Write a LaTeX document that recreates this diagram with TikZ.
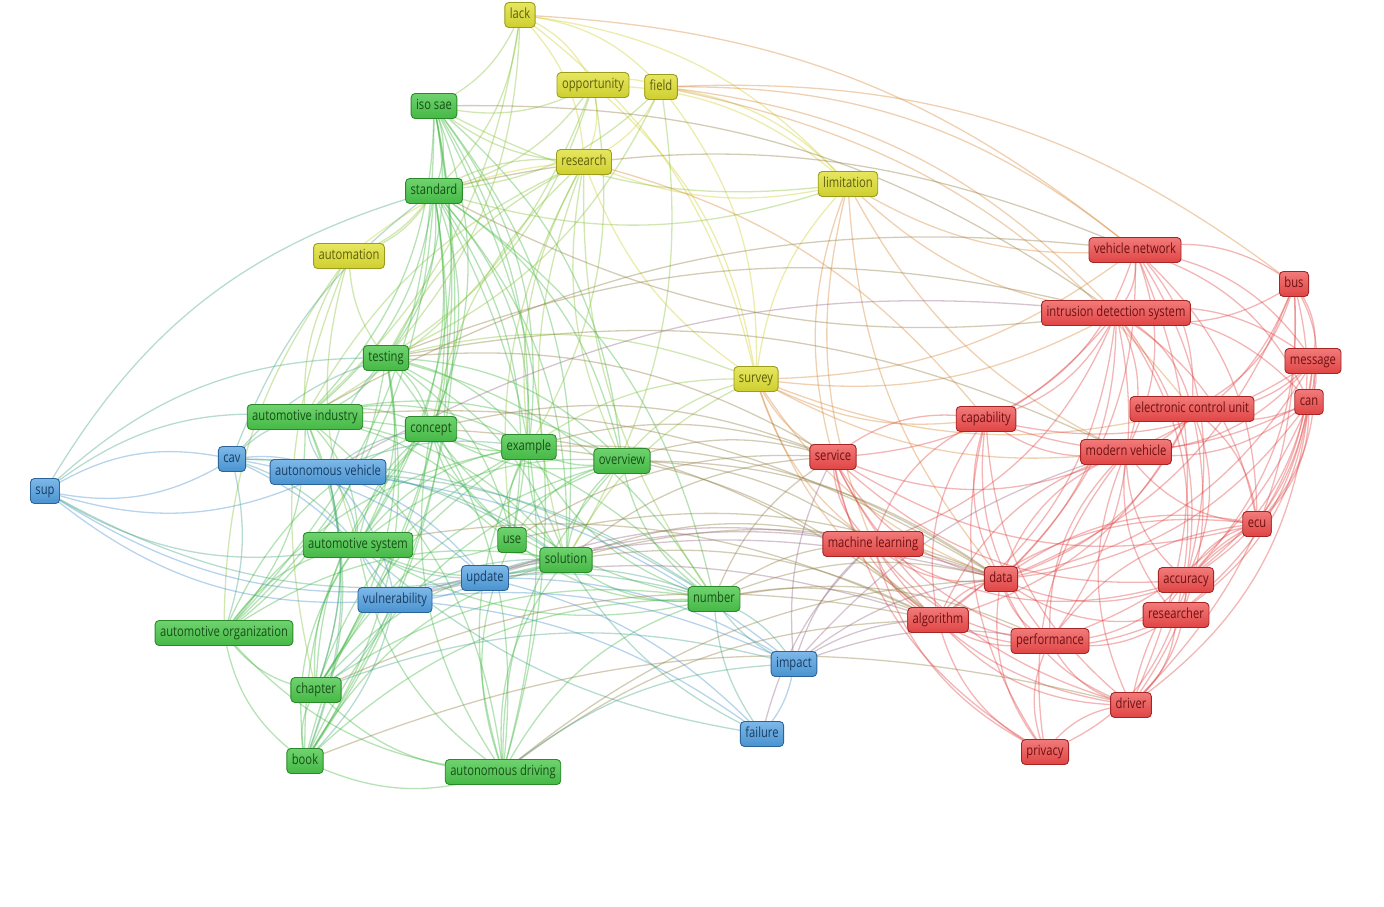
\documentclass[tikz,border=0pt]{standalone}
\usepackage{fontspec}
\setmainfont{Open Sans}[FakeStretch=0.8]
\usetikzlibrary{backgrounds}
\definecolor{gr}{HTML}{45B845}\definecolor{grL}{HTML}{6FD36F}\definecolor{grD}{HTML}{2A8A2A}\definecolor{grT}{HTML}{174F17}
\definecolor{ye}{HTML}{CFCF30}\definecolor{yeL}{HTML}{E6E660}\definecolor{yeD}{HTML}{9C9C1C}\definecolor{yeT}{HTML}{5E5E0C}
\definecolor{bl}{HTML}{4A93D0}\definecolor{blL}{HTML}{7DB8E8}\definecolor{blD}{HTML}{2A6499}\definecolor{blT}{HTML}{173D63}
\definecolor{rd}{HTML}{E04545}\definecolor{rdL}{HTML}{F27A7A}\definecolor{rdD}{HTML}{A52525}\definecolor{rdT}{HTML}{6E1010}
\tikzset{
  kwbox/.style={rounded corners=4pt, draw=#1D, line width=0.9pt, top color=#1L, bottom color=#1,
    text=#1T, inner xsep=5pt, inner ysep=0pt, text height=10pt, text depth=3pt, minimum height=25pt,
    font=\fontsize{14}{16}\selectfont},
  edge/.style={line width=1.3pt, opacity=0.4},
}
\newcommand\kw[5]{\node[kwbox=#4] (#1) at (#2,#3) {#5};\expandafter\xdef\csname kc@#1\endcsname{#4}}
\newcommand\edgeset[2]{\foreach \a/\b in {#2}{%
  \edef\ecol{\csname kc@\a\endcsname!50!\csname kc@\b\endcsname}%
  \draw[edge, draw=\ecol] (\a.center) to[bend left=#1] (\b.center);}}
\begin{document}
\begin{tikzpicture}[x=1pt,y=-1pt]
\useasboundingbox (0,0) rectangle (1384,907);
% yellow
\kw{lack}{520}{15}{ye}{lack}
\kw{opp}{593}{85}{ye}{opportunity}
\kw{field}{661}{87}{ye}{field}
\kw{res}{584}{162}{ye}{research}
\kw{lim}{848}{184}{ye}{limitation}
\kw{autom}{349}{256}{ye}{automation}
\kw{surv}{756}{379}{ye}{survey}
% green
\kw{iso}{434}{106}{gr}{iso sae}
\kw{std}{434}{191}{gr}{standard}
\kw{test}{386}{358}{gr}{testing}
\kw{ai}{305}{417}{gr}{automotive industry}
\kw{conc}{431}{429}{gr}{concept}
\kw{ex}{529}{447}{gr}{example}
\kw{ov}{622}{461}{gr}{overview}
\kw{as}{358}{545}{gr}{automotive system}
\kw{use}{512}{540}{gr}{use}
\kw{sol}{566}{560}{gr}{solution}
\kw{num}{714}{599}{gr}{number}
\kw{ao}{224}{633}{gr}{automotive organization}
\kw{chap}{316}{690}{gr}{chapter}
\kw{book}{305}{761}{gr}{book}
\kw{ad}{503}{772}{gr}{autonomous driving}
% blue
\kw{sup}{45}{491}{bl}{sup}
\kw{cav}{232}{459}{bl}{cav}
\kw{av}{328}{472}{bl}{autonomous vehicle}
\kw{upd}{485}{578}{bl}{update}
\kw{vul}{395}{600}{bl}{vulnerability}
\kw{imp}{794}{664}{bl}{impact}
\kw{fail}{762}{734}{bl}{failure}
% red
\kw{vn}{1135}{250}{rd}{vehicle network}
\kw{bus}{1294}{284}{rd}{bus}
\kw{ids}{1116}{313}{rd}{intrusion detection system}
\kw{msg}{1313}{361}{rd}{message}
\kw{can}{1309}{402}{rd}{can}
\kw{ecuu}{1192}{409}{rd}{electronic control unit}
\kw{cap}{986}{419}{rd}{capability}
\kw{mv}{1126}{452}{rd}{modern vehicle}
\kw{serv}{833}{457}{rd}{service}
\kw{ecu}{1257}{524}{rd}{ecu}
\kw{ml}{873}{544}{rd}{machine learning}
\kw{data}{1001}{579}{rd}{data}
\kw{acc}{1186}{580}{rd}{accuracy}
\kw{resr}{1176}{615}{rd}{researcher}
\kw{alg}{938}{620}{rd}{algorithm}
\kw{perf}{1050}{641}{rd}{performance}
\kw{drv}{1131}{705}{rd}{driver}
\kw{priv}{1045}{752}{rd}{privacy}
\begin{scope}[on background layer]
% green internal
\edgeset{22}{iso/std, iso/test, iso/ai, iso/conc, iso/as, iso/ao, iso/chap, iso/book, iso/ex, iso/sol, iso/ad, iso/use, iso/ov,
 std/test, std/ai, std/conc, std/ex, std/ov, std/as, std/use, std/sol, std/ao, std/chap, std/book, std/ad, std/num, std/autom,
 test/ai, test/conc, test/ex, test/ov, test/as, test/use, test/sol, test/num, test/ao, test/chap, test/book, test/ad,
 ai/conc, ai/ex, ai/ov, ai/as, ai/sol, ai/ao, ai/chap, ai/book, ai/ad, ai/num, ai/use}
\edgeset{-22}{conc/ex, conc/ov, conc/as, conc/sol, conc/chap, conc/book, conc/ad, conc/num, conc/ao, conc/use,
 ex/ov, ex/as, ex/use, ex/sol, ex/num, ex/chap, ex/ad, ex/book, ex/ao, ov/sol, ov/num, ov/as, ov/ad, ov/use, ov/chap, ov/book,
 as/sol, as/ao, as/chap, as/book, as/ad, as/use, as/num, use/sol, use/num, use/ad, sol/num, sol/chap, sol/book, sol/ad, sol/ao,
 num/ad, num/book, num/chap, ao/chap, ao/book, ao/ad, chap/book, chap/ad, book/ad}
% yellow
\edgeset{20}{lack/opp, lack/field, lack/res, lack/lim, lack/std, lack/iso, lack/test, lack/surv, lack/ai,
 opp/field, opp/res, opp/lim, opp/std, opp/iso, opp/surv, opp/test, opp/ai, opp/ex,
 field/res, field/lim, field/surv, field/std, field/test, field/vn, field/bus, field/ids, field/ecuu, field/sol}
\edgeset{-18}{res/lim, res/surv, res/std, res/test, res/autom, res/ex, res/sol, res/ov, res/ai, res/conc, res/use, res/num,
 lim/surv, lim/serv, lim/ids, lim/vn, lim/ml, lim/data, lim/mv, autom/test, autom/ai, autom/as, autom/std, autom/ao, autom/chap,
 surv/serv, surv/ml, surv/data, surv/ids, surv/vn, surv/mv, surv/ex, surv/ov, surv/sol, surv/ecuu, surv/cap, surv/alg, surv/test,
 iso/lim, std/lim, std/ids, iso/res}
% blue
\edgeset{22}{sup/cav, sup/test, sup/ai, sup/std}
\edgeset{-22}{sup/av, sup/upd, sup/vul, sup/sol, sup/as, sup/cav}
\edgeset{16}{cav/av, cav/test, cav/ai, cav/as, cav/vul, cav/upd, cav/std, cav/ao, cav/sol, cav/num,
 av/vul, av/upd, av/test, av/ai, av/sol, av/ex, av/imp, av/as, av/num, av/conc, av/chap, av/book,
 upd/vul, upd/sol, upd/imp, upd/as, upd/num, upd/fail, upd/ml,
 vul/imp, vul/fail, vul/sol, vul/num, vul/as, vul/chap, vul/alg, vul/data, vul/book,
 imp/fail, imp/num, imp/alg, imp/data, imp/serv, imp/ml, imp/perf, imp/mv, fail/num, fail/sol, fail/ml, fail/as}
% red
\edgeset{24}{vn/bus, vn/ids, vn/msg, vn/can, vn/ecuu, vn/mv, vn/ecu, vn/data, vn/cap, vn/acc, vn/drv,
 bus/msg, bus/can, bus/ecuu, bus/ecu, bus/ids, bus/mv, bus/data, bus/acc, bus/drv,
 ids/msg, ids/can, ids/ecuu, ids/mv, ids/ml, ids/data, ids/alg, ids/perf, ids/acc, ids/cap, ids/serv, ids/ecu, ids/resr,
 msg/can, msg/ecuu, msg/ecu, msg/mv, msg/acc, msg/resr, msg/data, msg/cap,
 can/ecuu, can/ecu, can/mv, can/acc, can/drv, can/data, can/resr, can/perf, can/cap,
 ecuu/mv, ecuu/ecu, ecuu/data, ecuu/acc, ecuu/drv, ecuu/alg}
\edgeset{-24}{cap/serv, cap/ml, cap/data, cap/alg, cap/mv, cap/perf, cap/drv, cap/priv,
 mv/ecu, mv/data, mv/alg, mv/acc, mv/resr, mv/drv, mv/perf, mv/priv,
 serv/ml, serv/data, serv/alg, serv/perf, serv/drv, serv/priv, serv/mv, serv/ecu, serv/acc,
 ecu/data, ecu/acc, ecu/resr, ecu/drv, ecu/alg, ecu/perf, ml/data, ml/alg, ml/perf, ml/priv, ml/drv, ml/acc,
 data/alg, data/perf, data/priv, data/drv, data/resr, data/acc, alg/perf, alg/priv, alg/drv, alg/resr,
 perf/drv, perf/priv, perf/resr, perf/acc, drv/priv, drv/resr, drv/acc, resr/acc, priv/resr}
% cross
\edgeset{18}{sol/serv, sol/alg, sol/data, sol/ml, num/alg, num/data, num/ml, num/serv, num/imp, num/perf,
 ov/serv, ov/data, ov/ml, ex/serv, ex/data, ex/alg, ad/alg, ad/data, ad/imp, book/drv, chap/alg, chap/imp,
 test/serv, test/mv, test/ids, std/vn, iso/ids, conc/serv, conc/alg, lack/vn, res/cap, as/alg, ai/data, ai/vn,
 use/data, use/serv, upd/data, av/ids}
\end{scope}
\end{tikzpicture}
\end{document}
